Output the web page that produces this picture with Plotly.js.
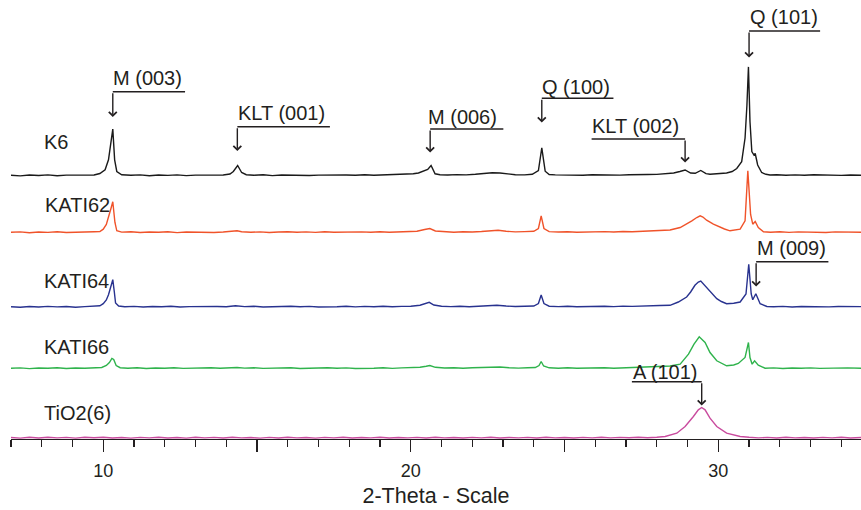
<!DOCTYPE html>
<html>
<head>
<meta charset="utf-8">
<script src="https://cdn.plot.ly/plotly-3.0.1.min.js"></script>
<style>html,body{margin:0;padding:0;background:#fff}#chart{width:861px;height:510px}</style>
</head>
<body>
<div id="chart"></div>
<script>
// ---- data: [2-theta, intensity above baseline] ----
const seriesNames = ["K6", "KATI62", "KATI64", "KATI66", "TiO2(6)"];
const seriesOffsets = [263.5, 206.5, 132, 70.5, 0.5];

const k6 = [[7.0,0.3],[7.3,-0.4],[7.6,0.5],[7.9,0],[8.2,0.6],[8.5,-0.3],[8.8,0.4],[9.1,0.2],[9.4,0.7],[9.7,0.5],[9.89,2],[10.06,5.7],[10.17,15.7],[10.24,32],[10.31,46.4],[10.37,15.7],[10.44,4],[10.6,0.7],[10.9,0.2],[11.2,0.6],[11.5,-0.2],[11.8,0.5],[12.1,0.1],[12.4,0.6],[12.7,-0.1],[13.0,0.4],[13.3,0.3],[13.6,0.8],[13.9,0.5],[14.12,1.5],[14.23,4],[14.37,10],[14.5,3],[14.65,0.8],[14.9,0.3],[15.2,0.7],[15.5,-0.1],[15.8,0.5],[16.1,0.2],[16.4,0.6],[16.7,0],[17.0,0.4],[17.3,0.6],[17.6,0.1],[17.9,0.5],[18.2,0.3],[18.5,0.8],[18.8,0.2],[19.1,0.6],[19.4,0.4],[19.7,0.9],[20.08,1.7],[20.25,2.5],[20.41,4],[20.55,6],[20.66,10],[20.79,1.7],[20.95,0.8],[21.2,0.5],[21.5,0.9],[21.8,0.6],[22.1,1.2],[22.4,2.2],[22.65,2.7],[22.9,2.5],[23.15,1.5],[23.4,0.8],[23.7,0.6],[23.95,1.2],[24.15,5],[24.26,27.7],[24.37,4.3],[24.5,1],[24.7,0.6],[25.0,0.4],[25.3,0.8],[25.6,0.3],[25.9,0.7],[26.2,0.5],[26.5,0.9],[26.8,0.4],[27.1,0.8],[27.4,0.6],[27.7,1],[28.0,1.1],[28.3,1.6],[28.55,2.5],[28.75,4],[28.92,5.5],[29.1,2.5],[29.25,2.2],[29.43,5],[29.6,1.8],[29.73,1.2],[30.0,1.5],[30.27,2.5],[30.45,4],[30.6,7],[30.76,13.8],[30.87,37.5],[30.93,70],[30.98,108.6],[31.03,54],[31.09,24],[31.16,20.5],[31.2,22],[31.28,10.5],[31.41,3],[31.55,1.2],[31.68,0.5],[31.9,0.8],[32.2,0.3],[32.5,0.6],[32.8,0.2],[33.1,0.7],[33.4,0.4],[33.7,0.6],[34.0,0.1],[34.3,0.5],[34.64,0.3]];

const kati62 = [[7.0,0.2],[7.3,0.6],[7.6,-0.2],[7.9,0.5],[8.2,0.1],[8.5,0.7],[8.8,0],[9.1,0.5],[9.4,0.3],[9.7,0.8],[9.89,1],[10.0,3.3],[10.1,8],[10.17,16.7],[10.25,24],[10.31,30.7],[10.38,10],[10.44,1.7],[10.6,0.4],[10.9,0.7],[11.2,0],[11.5,0.5],[11.8,0.2],[12.1,0.7],[12.4,-0.1],[12.7,0.5],[13.0,0.3],[13.3,0.6],[13.6,0],[13.9,0.5],[14.2,0.9],[14.35,1.8],[14.5,0.8],[14.8,0.3],[15.1,0.6],[15.4,0],[15.7,0.5],[16.0,0.8],[16.3,0.2],[16.6,0.6],[16.9,0.1],[17.2,0.7],[17.5,0.3],[17.8,0.5],[18.1,0],[18.4,0.6],[18.7,0.3],[19.0,0.8],[19.3,0.2],[19.6,0.6],[19.9,0.4],[20.2,1.2],[20.45,3],[20.62,4],[20.8,1.5],[21.1,0.6],[21.4,0.3],[21.7,0.8],[22.0,0.5],[22.3,1],[22.6,1.8],[22.84,2.3],[23.1,1.2],[23.4,0.6],[23.7,0.9],[24.0,1.2],[24.15,4],[24.24,16.7],[24.33,4],[24.5,0.9],[24.8,0.5],[25.1,0.8],[25.4,0.3],[25.7,0.7],[26.0,0.4],[26.3,0.9],[26.6,0.5],[26.9,1],[27.2,0.7],[27.5,1.2],[27.8,1.5],[28.1,2],[28.43,2.5],[28.76,5],[28.95,8],[29.14,11.7],[29.3,15],[29.41,16.7],[29.5,15.5],[29.62,12.3],[29.84,8.3],[30.06,5],[30.2,3.5],[30.38,1.7],[30.55,2.5],[30.71,3.3],[30.87,11.7],[30.96,61.7],[31.05,18],[31.12,8.3],[31.2,11],[31.3,5],[31.47,0.7],[31.7,0.3],[32.0,0.7],[32.3,0.1],[32.6,0.6],[32.9,0.2],[33.2,0.5],[33.5,0],[33.8,0.6],[34.1,0.3],[34.4,0.6],[34.64,0.2]];

const kati64 = [[7.0,0.3],[7.3,-0.3],[7.6,0.5],[7.9,0],[8.2,0.6],[8.5,0.1],[8.8,0.5],[9.1,-0.2],[9.4,0.4],[9.7,0.7],[9.89,1.2],[10.0,3.3],[10.1,7],[10.17,12.3],[10.25,20],[10.31,27.3],[10.36,15],[10.4,4],[10.5,1],[10.7,0.3],[11.0,0.6],[11.3,0],[11.6,0.5],[11.9,0.2],[12.2,0.7],[12.5,0],[12.8,0.4],[13.1,0.6],[13.4,0.1],[13.7,0.5],[14.0,0.3],[14.3,1.2],[14.6,0.4],[14.9,0.7],[15.2,0],[15.5,0.5],[15.8,0.3],[16.1,0.8],[16.4,0.2],[16.7,0.6],[17.0,0],[17.3,0.5],[17.6,0.3],[17.9,0.7],[18.2,0.1],[18.5,0.6],[18.8,0.3],[19.1,0.8],[19.4,0.2],[19.7,0.6],[20.0,0.8],[20.3,1.8],[20.5,3.5],[20.6,4.7],[20.75,2],[21.0,0.8],[21.3,0.4],[21.6,0.8],[21.9,0.3],[22.2,0.9],[22.5,1.3],[22.8,1.8],[23.1,1],[23.4,0.5],[23.7,0.8],[24.0,1],[24.15,3.5],[24.24,12],[24.33,3.5],[24.5,0.8],[24.8,0.4],[25.1,0.7],[25.4,0.2],[25.7,0.6],[26.0,0.3],[26.3,0.8],[26.6,0.4],[26.9,0.9],[27.2,0.6],[27.5,1.1],[27.8,1.3],[28.1,1.5],[28.43,1.7],[28.7,5],[28.97,10],[29.1,15],[29.24,21.7],[29.35,25],[29.43,26],[29.55,22],[29.67,18],[29.8,13],[29.95,8.3],[30.1,5.5],[30.27,3.3],[30.5,3.8],[30.71,5],[30.9,13],[30.99,42.7],[31.07,13],[31.12,7.3],[31.22,13.3],[31.36,3.3],[31.58,0.5],[31.8,0.2],[32.1,0.6],[32.4,0],[32.7,0.5],[33.0,0.2],[33.3,0.6],[33.6,0.1],[33.9,0.5],[34.2,0.3],[34.64,0.4]];

const kati66 = [[7.0,0.2],[7.3,0.6],[7.6,-0.1],[7.9,0.5],[8.2,0.2],[8.5,0.7],[8.8,0],[9.1,0.5],[9.4,0.2],[9.7,0.6],[9.95,1],[10.1,3],[10.2,6],[10.28,10],[10.34,9],[10.42,3],[10.55,0.8],[10.8,0.3],[11.1,0.7],[11.4,0],[11.7,0.5],[12.0,0.2],[12.3,0.7],[12.6,0.1],[12.9,0.5],[13.2,0.3],[13.5,0.8],[13.8,0.2],[14.1,0.6],[14.35,1],[14.6,0.4],[14.9,0.7],[15.2,0.1],[15.5,0.5],[15.8,0.2],[16.1,0.7],[16.4,0],[16.7,0.5],[17.0,0.3],[17.3,0.8],[17.6,0.2],[17.9,0.6],[18.2,0],[18.5,0.5],[18.8,0.3],[19.1,0.7],[19.4,0.1],[19.7,0.6],[20.0,0.6],[20.3,1.2],[20.5,2.2],[20.62,3],[20.8,1.2],[21.1,0.5],[21.4,0.8],[21.7,0.2],[22.0,0.7],[22.3,0.9],[22.6,1.3],[22.9,1.5],[23.2,0.8],[23.5,0.4],[23.8,0.8],[24.05,1],[24.17,3],[24.24,7],[24.32,2.5],[24.5,0.7],[24.8,0.3],[25.1,0.7],[25.4,0.2],[25.7,0.6],[26.0,0.3],[26.3,0.8],[26.6,0.3],[26.9,0.7],[27.2,0.5],[27.5,0.9],[27.8,1.2],[28.1,1.6],[28.43,2.5],[28.76,4.3],[29.03,14.3],[29.21,24.3],[29.38,31.7],[29.57,26],[29.73,16],[29.95,7.7],[30.27,2.7],[30.5,3.5],[30.65,5],[30.87,11],[30.98,26],[31.03,11],[31.1,4.3],[31.18,7.7],[31.3,3.3],[31.52,0.3],[31.8,0.6],[32.1,0],[32.4,0.5],[32.7,0.2],[33.0,0.6],[33.3,0.1],[33.6,0.5],[33.9,0.2],[34.2,0.6],[34.64,0.3]];

const tio2 = [[7.0,1],[7.3,0.4],[7.6,1.2],[7.9,0.5],[8.2,1.3],[8.5,0.6],[8.8,1.1],[9.1,0.4],[9.4,1.2],[9.7,0.7],[10.0,1.3],[10.3,0.5],[10.6,1],[10.9,0.4],[11.2,1.1],[11.5,0.6],[11.8,1.2],[12.1,0.5],[12.4,1],[12.7,0.4],[13.0,1.2],[13.3,0.6],[13.6,1.1],[13.9,0.5],[14.2,1.2],[14.5,0.6],[14.8,1],[15.1,0.4],[15.4,1.1],[15.7,0.5],[16.0,1.2],[16.3,0.6],[16.6,1],[16.9,0.4],[17.2,1.1],[17.5,0.6],[17.8,1.2],[18.1,0.5],[18.4,1],[18.7,0.6],[19.0,1.2],[19.3,0.5],[19.6,1],[19.9,0.6],[20.2,1.1],[20.5,0.5],[20.8,1.2],[21.1,0.6],[21.4,1],[21.7,0.5],[22.0,1.1],[22.3,0.6],[22.6,1.2],[22.9,0.5],[23.2,1],[23.5,0.6],[23.8,1.1],[24.1,0.5],[24.4,1.2],[24.7,0.6],[25.0,1],[25.3,0.5],[25.6,1.1],[25.9,0.6],[26.2,1.2],[26.5,0.6],[26.8,1.1],[27.1,0.7],[27.4,1.2],[27.7,0.8],[28.0,1.3],[28.27,2],[28.65,5.3],[28.92,12],[29.19,22],[29.35,28.7],[29.46,31],[29.57,28.7],[29.73,20.3],[29.95,12],[30.27,5.3],[30.71,2],[31.0,1.2],[31.3,0.6],[31.6,1.1],[31.9,0.5],[32.2,1.2],[32.5,0.6],[32.8,1],[33.1,0.5],[33.4,1.1],[33.7,0.6],[34.0,1.2],[34.3,0.5],[34.64,1]];

const seriesData = [k6, kati62, kati64, kati66, tio2];

// x-axis ticks
const tickValues = [10, 15, 20, 25, 30];
const tickLabels = ["10", "", "20", "", "30"];

// peak labels: text, x of arrow, x of far end of bar, text left x, bar y, arrow tip y, text y
const peakLabels = ["M (003)", "KLT (001)", "M (006)", "Q (100)", "KLT (002)", "Q (101)", "M (009)", "A (101)"];
const peakX      = [10.31, 14.36, 20.63, 24.26, 28.92, 31.0, 31.23, 29.46];
const barEndX    = [12.66, 17.37, 23.01, 26.59, 25.88, 33.31, 33.58, 27.19];
const textX      = [10.25, 14.32, 20.50, 24.20, 25.82, 30.97, 31.19, 27.16];
const barY       = [347.3, 312.3, 310, 340.7, 300, 408, 177.3, 57.3];
const tipY       = [322, 288, 286.5, 316.5, 276.5, 381.5, 152.5, 33.5];
const textY      = [360.7, 325.7, 322.3, 352.3, 313.3, 422, 190.7, 67.3];

// sample labels
const sampleLabelX = [8.0, 8.05, 8.0, 8.0, 8.02];
const sampleLabelY = [297.3, 234, 158.3, 92.3, 26];

const colors = ["#1a1a1a", "#f0532a", "#28328f", "#2fb34c", "#c94b9e"];
const ink = "#231f20";
const fontFam = "Liberation Sans, Arial, Helvetica, sans-serif";

const traces = seriesData.map((d, i) => ({
  type: "scatter", mode: "lines",
  x: d.map(p => p[0]),
  y: d.map(p => p[1] + seriesOffsets[i]),
  line: {color: colors[i], width: 1.4},
  name: seriesNames[i], hoverinfo: "skip"
}));

const annotations = [];
const shapes = [];
peakLabels.forEach((t, i) => {
  annotations.push({xref: "x", yref: "y", x: textX[i], y: textY[i], text: t, showarrow: false,
    xanchor: "left", yanchor: "middle", font: {family: fontFam, size: 20, color: ink}});
  annotations.push({xref: "x", yref: "y", x: peakX[i], y: tipY[i], axref: "x", ayref: "y",
    ax: peakX[i], ay: barY[i], text: "", showarrow: true, arrowhead: 4, arrowsize: 1.1,
    arrowwidth: 1.4, arrowcolor: ink, standoff: 0});
  shapes.push({type: "line", xref: "x", yref: "y", x0: peakX[i], x1: barEndX[i], y0: barY[i], y1: barY[i],
    line: {color: ink, width: 1.4}});
});
seriesNames.forEach((n, i) => {
  annotations.push({xref: "x", yref: "y", x: sampleLabelX[i], y: sampleLabelY[i], text: n, showarrow: false,
    xanchor: "left", yanchor: "middle", font: {family: fontFam, size: 20, color: ink}});
});

const layout = {
  width: 861, height: 510,
  margin: {l: 11, r: 0, t: 0, b: 71},
  paper_bgcolor: "#fff", plot_bgcolor: "#fff",
  showlegend: false,
  font: {family: fontFam, color: ink},
  xaxis: {
    range: [7, 34.64], tickvals: tickValues, ticktext: tickLabels,
    ticks: "outside", ticklen: 12, tickwidth: 1.3, tickcolor: ink,
    showline: true, linecolor: ink, linewidth: 1.4, layer: "below traces",
    showgrid: false, zeroline: false, ticklabelstandoff: 3,
    tickfont: {family: fontFam, size: 18, color: ink},
    minor: {dtick: 1, tick0: 0, ticks: "outside", ticklen: 7, tickwidth: 1.3, tickcolor: ink, showgrid: false},
    title: {text: "2-Theta - Scale", font: {family: fontFam, size: 21.5, color: ink}, standoff: 8},
    fixedrange: true
  },
  yaxis: {range: [0, 439], visible: false, fixedrange: true},
  annotations: annotations,
  shapes: shapes
};

Plotly.newPlot("chart", traces, layout, {displayModeBar: false, staticPlot: true});
</script>
</body>
</html>
